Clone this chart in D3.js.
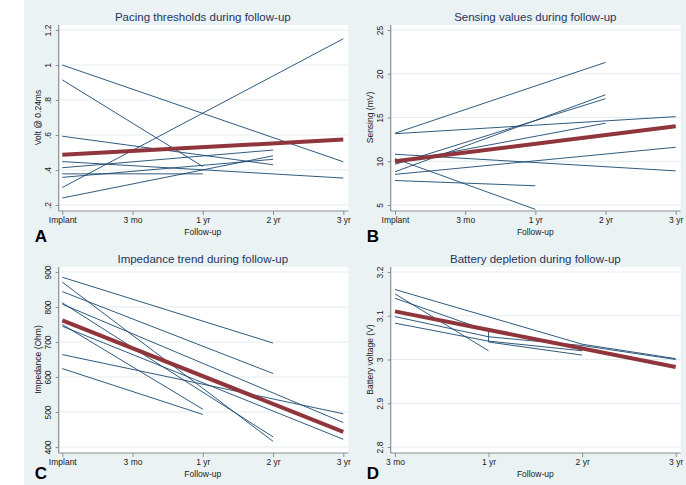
<!DOCTYPE html>
<html>
<head>
<meta charset="utf-8">
<script src="https://cdn.jsdelivr.net/npm/d3@7"></script>
<style>
  html, body { margin: 0; padding: 0; background: #ffffff; }
  svg { display: block; font-family: "Liberation Sans", Arial, sans-serif; }
</style>
</head>
<body>
<svg id="chart" width="686" height="485"></svg>
<script>
// ---------- data ----------
const followUpFull = ["Implant", "3 mo", "1 yr", "2 yr", "3 yr"];
const followUpBattery = ["3 mo", "1 yr", "2 yr", "3 yr"];

const pacingTicks = [0.2, 0.4, 0.6, 0.8, 1, 1.2];
const pacingTickLabels = [".2", ".4", ".6", ".8", "1", "1.2"];
const pacingLines = [
  [["Implant", 1.0], ["3 yr", 0.447]],
  [["Implant", 0.915], ["1 yr", 0.42]],
  [["Implant", 0.30], ["3 yr", 1.15]],
  [["Implant", 0.593], ["2 yr", 0.43]],
  [["Implant", 0.448], ["3 yr", 0.354]],
  [["Implant", 0.378], ["1 yr", 0.378]],
  [["Implant", 0.413], ["2 yr", 0.514]],
  [["Implant", 0.358], ["2 yr", 0.461]],
  [["Implant", 0.24], ["2 yr", 0.481]]
];
const pacingMean = [["Implant", 0.487], ["3 yr", 0.574]];

const sensingTicks = [5, 10, 15, 20, 25];
const sensingTickLabels = ["5", "10", "15", "20", "25"];
const sensingLines = [
  [["Implant", 13.2], ["2 yr", 21.3]],
  [["Implant", 13.15], ["3 yr", 15.1]],
  [["Implant", 10.8], ["3 yr", 8.9]],
  [["Implant", 10.3], ["1 yr", 4.5]],
  [["Implant", 9.85], ["2 yr", 14.35]],
  [["Implant", 9.65], ["2 yr", 17.15]],
  [["Implant", 8.8], ["2 yr", 17.6]],
  [["Implant", 8.5], ["3 yr", 11.6]],
  [["Implant", 7.8], ["1 yr", 7.2]]
];
const sensingMean = [["Implant", 10.0], ["3 yr", 14.0]];

const impedanceTicks = [400, 500, 600, 700, 800, 900];
const impedanceTickLabels = ["400", "500", "600", "700", "800", "900"];
const impedanceLines = [
  [["Implant", 885], ["2 yr", 697]],
  [["Implant", 871], ["2 yr", 416]],
  [["Implant", 844], ["2 yr", 610]],
  [["Implant", 812], ["2 yr", 429]],
  [["Implant", 808], ["3 yr", 470]],
  [["Implant", 750], ["1 yr", 508]],
  [["Implant", 745], ["3 yr", 422]],
  [["Implant", 664], ["3 yr", 495]],
  [["Implant", 624], ["1 yr", 493]]
];
const impedanceMean = [["Implant", 762], ["3 yr", 443]];

const batteryTicks = [2.8, 2.9, 3.0, 3.1, 3.2];
const batteryTickLabels = ["2.8", "2.9", "3", "3.1", "3.2"];
const batteryLines = [
  [["3 mo", 3.16], ["2 yr", 3.035], ["3 yr", 3.002]],
  [["3 mo", 3.15], ["1 yr", 3.02]],
  [["3 mo", 3.14], ["1 yr", 3.065], ["1 yr", 3.04], ["2 yr", 3.01]],
  [["3 mo", 3.098], ["1 yr", 3.052], ["2 yr", 3.032], ["3 yr", 3.0]],
  [["3 mo", 3.083], ["1 yr", 3.042], ["2 yr", 3.02]]
];
const batteryMean = [["3 mo", 3.11], ["3 yr", 2.983]];

const titles = ["Pacing thresholds during follow-up", "Sensing values during follow-up",
                "Impedance trend during follow-up", "Battery depletion during follow-up"];
const yTitles = ["Volt @ 0.24ms", "Sensing (mV)", "Impedance (Ohm)", "Battery voltage (V)"];
const panelLetters = ["A", "B", "C", "D"];

// ---------- styling / layout ----------
const BG = "#eaf2f3", GRID = "#e4edef", AXIS = "#8a8f92", NAVY = "#1a476f", MAROON = "#90353b";
const TITLE_COLOR = "#1f3560", TEXT = "#1a1a1a";
const FONT = "'Liberation Sans', Arial, sans-serif";

const svg = d3.select("#chart");
svg.append("rect").attr("x", 24).attr("y", 0).attr("width", 662).attr("height", 485).attr("fill", BG);

const cols = [
  { axisX: 58.7, x0: 62.3, x1: 343.3, right: 348.3 },
  { axisX: 390.7, x0: 395, x1: 675.7, right: 680.7 }
];
const rows = [
  { top: 25, yTop: 30, yBot: 205, axisY: 211, titleY: 17, letterY: 242 },
  { top: 267, yTop: 272, yBot: 447, axisY: 453, titleY: 259, letterY: 479 }
];

const panels = [
  { col: 0, row: 0, cats: followUpFull, ticks: pacingTicks, labels: pacingTickLabels, lines: pacingLines, mean: pacingMean },
  { col: 1, row: 0, cats: followUpFull, ticks: sensingTicks, labels: sensingTickLabels, lines: sensingLines, mean: sensingMean },
  { col: 0, row: 1, cats: followUpFull, ticks: impedanceTicks, labels: impedanceTickLabels, lines: impedanceLines, mean: impedanceMean },
  { col: 1, row: 1, cats: followUpBattery, ticks: batteryTicks, labels: batteryTickLabels, lines: batteryLines, mean: batteryMean }
];

panels.forEach((p, i) => {
  const c = cols[p.col], r = rows[p.row];
  const g = svg.append("g");
  const x = d3.scalePoint().domain(p.cats).range([c.x0, c.x1]).padding(0);
  const y = d3.scaleLinear().domain([d3.min(p.ticks), d3.max(p.ticks)]).range([r.yBot, r.yTop]);

  // plot region
  g.append("rect").attr("x", c.axisX).attr("y", r.top)
    .attr("width", c.right - c.axisX).attr("height", r.axisY - r.top).attr("fill", "#fff");

  // gridlines
  g.selectAll(".grid").data(p.ticks).join("line")
    .attr("x1", c.axisX).attr("x2", c.right)
    .attr("y1", d => y(d)).attr("y2", d => y(d))
    .attr("stroke", GRID).attr("stroke-width", 1);

  // series
  const line = d3.line().x(d => x(d[0])).y(d => y(d[1]));
  g.selectAll(".pt").data(p.lines).join("path")
    .attr("d", line).attr("fill", "none")
    .attr("stroke", NAVY).attr("stroke-width", 0.9);
  g.append("path").attr("d", line(p.mean)).attr("fill", "none")
    .attr("stroke", MAROON).attr("stroke-width", 4);

  // y axis
  const yAxis = d3.axisLeft(y).tickValues(p.ticks).tickSize(3).tickFormat((d, k) => p.labels[k]);
  const ya = g.append("g").attr("transform", `translate(${c.axisX},0)`).call(yAxis);
  ya.select(".domain").attr("stroke", "none");
  g.append("line").attr("x1", c.axisX).attr("x2", c.axisX).attr("y1", r.top).attr("y2", r.axisY)
    .attr("stroke", AXIS).attr("stroke-width", 1.2);
  ya.selectAll(".tick line").attr("stroke", AXIS);
  ya.selectAll(".tick text")
    .attr("x", null).attr("dy", null)
    .attr("transform", "translate(-11,0) rotate(-90)")
    .attr("text-anchor", "middle").attr("dominant-baseline", "central")
    .attr("font-size", 8.5).attr("fill", TEXT).attr("font-family", FONT);

  // x axis
  const xAxis = d3.axisBottom(x).tickSize(4);
  const xa = g.append("g").attr("transform", `translate(0,${r.axisY})`).call(xAxis);
  xa.select(".domain").attr("stroke", "none");
  g.append("line").attr("x1", c.axisX).attr("x2", c.right).attr("y1", r.axisY).attr("y2", r.axisY)
    .attr("stroke", AXIS).attr("stroke-width", 1.2);
  xa.selectAll(".tick line").attr("stroke", AXIS);
  xa.selectAll(".tick text").attr("y", 5.5).attr("dy", "0.71em")
    .attr("font-size", 8.5).attr("fill", TEXT).attr("font-family", FONT);

  const cx = (c.x0 + c.x1) / 2;
  // titles
  g.append("text").attr("x", cx).attr("y", r.titleY).attr("dy", "0.35em")
    .attr("text-anchor", "middle").attr("font-size", 11.5).attr("fill", TITLE_COLOR)
    .text(titles[i]);
  g.append("text").attr("x", cx).attr("y", r.axisY + 23.5).attr("text-anchor", "middle")
    .attr("font-size", 8.5).attr("fill", TEXT).text("Follow-up");
  g.append("text")
    .attr("transform", `translate(${c.axisX - 20.5},${(r.yTop + r.yBot) / 2}) rotate(-90)`)
    .attr("text-anchor", "middle").attr("dominant-baseline", "central")
    .attr("font-size", 8.5).attr("fill", TEXT).text(yTitles[i]);
  // panel letter
  g.append("text").attr("x", c.axisX - 24).attr("y", r.letterY)
    .attr("font-size", 17).attr("font-weight", "bold").attr("fill", "#000")
    .attr("font-family", FONT)
    .text(panelLetters[i]);
});
</script>
</body>
</html>
